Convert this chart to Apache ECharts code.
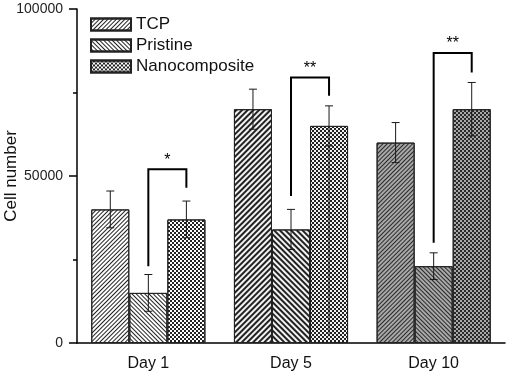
<!DOCTYPE html>
<html><head><meta charset="utf-8">
<script src="https://cdn.jsdelivr.net/npm/echarts@6/dist/echarts.min.js"></script>
<style>html,body{margin:0;padding:0;background:#fff}#c{width:510px;height:377px}</style>
</head><body><div id="c"></div>
<script>
// ---- data ----
const categories = ['Day 1', 'Day 5', 'Day 10'];
const seriesNames = ['TCP', 'Pristine', 'Nanocomposite'];
const tcp = [40000, 70000, 60000];
const pristine = [15000, 34000, 23000];
const nano = [37000, 65000, 70000];
const tcpErr = [5500, 6000, 6000];
const pristineErr = [5500, 6000, 4000];
const nanoErr = [5500, 6000, 8000];
const nanoWhiskerTail = [null, 2000, null];
const yTicks = [0, 50000, 100000];
// [category, leftBottom, top, rightBottom, label]
const brackets = [
  [0, 23000, 52000, 46500, '*'],
  [1, 44000, 79500, 74000, '**'],
  [2, 30000, 86800, 81000, '**']
];

// ---- styles ----
const FONT = 'Liberation Sans, Arial, sans-serif';
const shades = [
  { bg: '#ffffff', line: '#222222', dash: [1, 2] },
  { bg: '#f2f2f2', line: '#222222', dash: [1.2, 1.8] },
  { bg: '#a8a8a8', line: '#2a2a2a', dash: [1, 2] }
];
function decalFor(seriesIdx, catIdx) {
  const s = shades[catIdx];
  if (seriesIdx === 2) {
    return { symbol: 'rect', color: s.line, dashArrayX: [[2, 2], [0, 2, 2, 0]], dashArrayY: [2, 0], rotation: 0 };
  }
  return {
    symbol: 'rect', color: s.line,
    dashArrayX: [1, 0], dashArrayY: s.dash,
    rotation: seriesIdx === 0 ? -Math.PI / 4 : Math.PI / 4
  };
}
function itemStyleFor(seriesIdx, catIdx) {
  return { color: shades[catIdx].bg, borderColor: '#222', borderWidth: 1, decal: decalFor(seriesIdx, catIdx) };
}
const values = [tcp, pristine, nano];
const errs = [tcpErr, pristineErr, nanoErr];

function barX(api, cat, s) {
  const c = api.coord([cat, 0]);
  const band = api.size([1, 0])[0];
  const bw = band * 0.8 / 3;
  return c[0] + (s - 1) * bw;
}

const barSeries = seriesNames.map((name, si) => ({
  name, type: 'bar', barGap: '0%', barCategoryGap: '20%',
  itemStyle: itemStyleFor(si, 0),
  data: values[si].map((v, ci) => ({ value: v, itemStyle: itemStyleFor(si, ci) })),
  z: 2
}));

const errData = [];
values.forEach((arr, si) => arr.forEach((v, ci) => {
  const tail = si === 2 && nanoWhiskerTail[ci] != null ? nanoWhiskerTail[ci] : v - errs[si][ci];
  errData.push([ci, si, v - errs[si][ci], v + errs[si][ci], tail]);
}));

const errSeries = {
  type: 'custom', name: 'err', z: 5, silent: true,
  data: errData,
  encode: { x: 0, y: 3 },
  renderItem: function (params, api) {
    const ci = api.value(0), si = api.value(1);
    const x = barX(api, ci, si);
    const lo = api.coord([ci, api.value(2)])[1];
    const hi = api.coord([ci, api.value(3)])[1];
    const tail = api.coord([ci, api.value(4)])[1];
    const st = { stroke: '#1a1a1a', lineWidth: 1 };
    const cw = 4;
    return { type: 'group', children: [
      { type: 'line', shape: { x1: x, y1: hi, x2: x, y2: Math.max(lo, tail) }, style: st },
      { type: 'line', shape: { x1: x - cw, y1: hi, x2: x + cw, y2: hi }, style: st },
      { type: 'line', shape: { x1: x - cw, y1: lo, x2: x + cw, y2: lo }, style: st }
    ] };
  }
};

const bracketSeries = {
  type: 'custom', name: 'brackets', z: 6, silent: true,
  data: brackets,
  encode: { x: 0, y: 2 },
  renderItem: function (params, api) {
    const b = brackets[params.dataIndex];
    const ci = b[0];
    const xl = barX(api, ci, 1), xr = barX(api, ci, 2);
    const yl = api.coord([ci, b[1]])[1];
    const yt = api.coord([ci, b[2]])[1];
    const yr = api.coord([ci, b[3]])[1];
    return { type: 'group', children: [
      { type: 'polyline', shape: { points: [[xl, yl], [xl, yt], [xr, yt], [xr, yr]] },
        style: { stroke: '#000', lineWidth: 2, fill: null } },
      { type: 'text', style: { text: b[4], x: (xl + xr) / 2, y: yt - 1, align: 'center', verticalAlign: 'bottom',
        fill: '#000', font: '16px ' + FONT } }
    ] };
  }
};

const chart = echarts.init(document.getElementById('c'));
chart.setOption({
  animation: false,
  backgroundColor: '#fff',
  grid: { left: 77, right: 5, top: 9, bottom: 34, containLabel: false, outerBoundsMode: 'none' },
  legend: {
    data: seriesNames, orient: 'vertical', left: 85, top: 11, icon: 'rect',
    itemWidth: 40, itemHeight: 12, itemGap: 4,
    textStyle: { fontFamily: FONT, fontSize: 17, color: '#111' }
  },
  xAxis: [{
    type: 'category', data: categories,
    axisLine: { lineStyle: { color: '#000', width: 1.5 } },
    axisTick: { alignWithLabel: true, length: 8, lineStyle: { color: '#000', width: 1.5 } },
    axisLabel: { fontFamily: FONT, fontSize: 16, color: '#111', margin: 13 }
  }, {
    type: 'category', data: categories, position: 'bottom',
    axisLine: { show: false },
    axisTick: { length: 4, lineStyle: { color: '#000', width: 1.5 } },
    axisLabel: { show: false }
  }],
  yAxis: {
    type: 'value', min: yTicks[0], max: yTicks[yTicks.length - 1], interval: yTicks[1] - yTicks[0],
    name: 'Cell number', nameLocation: 'middle', nameGap: 57, nameMoveOverlap: false,
    nameTextStyle: { fontFamily: FONT, fontSize: 17, color: '#111' },
    axisLine: { show: true, lineStyle: { color: '#000', width: 1.5 } },
    axisTick: { show: true, length: 8, lineStyle: { color: '#000', width: 1.5 } },
    minorTick: { show: true, splitNumber: 2, length: 4, lineStyle: { color: '#000', width: 1.5 } },
    splitLine: { show: false },
    axisLabel: { fontFamily: FONT, fontSize: 14, color: '#222', margin: 14, formatter: v => String(v) }
  },
  series: [...barSeries, errSeries, bracketSeries]
});
</script></body></html>
